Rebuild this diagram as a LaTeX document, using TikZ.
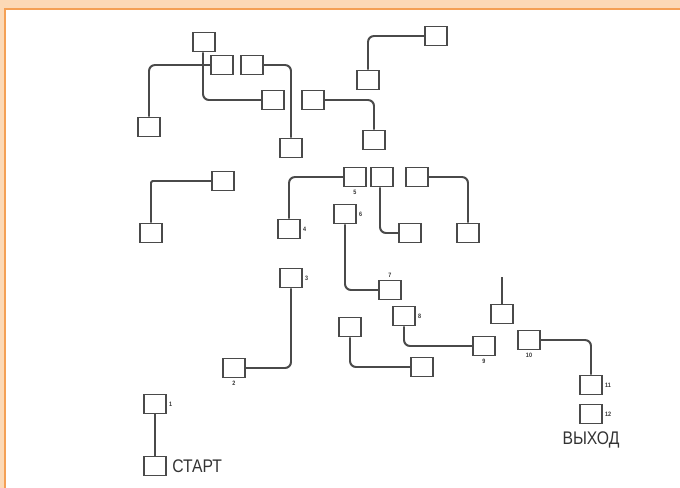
\documentclass[tikz,border=0pt]{standalone}
\usepackage{fontspec}
\usepackage{tikz}
\usetikzlibrary{positioning, calc}
\newfontfamily\capfont[FakeStretch=0.86]{Liberation Sans}
\definecolor{frame}{HTML}{FCD9B6}
\definecolor{frameline}{HTML}{F4A055}
\definecolor{wirecol}{HTML}{4A4A4A}
\definecolor{textcol}{HTML}{333333}
\tikzset{
  room/.style={
    draw=wirecol, line width=1.1pt, fill=white,
    minimum width=0.55cm, minimum height=0.475cm,
    inner sep=0pt
  },
  wire/.style={
    draw=wirecol, line width=1.4pt,
    rounded corners=0.15cm
  },
  numlbl/.style={
    font=\capfont\bfseries\fontsize{4.5}{5}\selectfont,
    text=textcol, inner sep=1.5pt
  },
  caption/.style={
    font=\capfont\fontsize{13}{14}\selectfont,
    text=textcol, inner sep=0pt
  }
}
\begin{document}
\begin{tikzpicture}[x=0.025cm, y=-0.025cm]
  % frame
  \useasboundingbox (0,0) rectangle (680,488);
  \fill[white] (0,0) rectangle (680,488);
  \fill[frame] (0,0) rectangle (680,9);
  \fill[frame] (0,0) rectangle (5,488);
  \draw[frameline, line width=1pt] (680,9) -- (5,9) -- (5,488);

  % upper left group
  \node[room] (a) at (204,42) {};
  \node[room] (b) at (222,65) {};
  \node[room] (c) at (252,65) {};
  \node[room] (d) at (273,100) {};
  \node[room] (e) at (149,127) {};
  \node[room] (f) at (291,148) {};
  \draw[wire] (e.north) |- (b.west);
  \draw[wire] ($(a.south)+(-1,0)$) |- (d.west);
  \draw[wire] (c.east) -| (f.north);

  % upper right group
  \node[room] (g) at (436,36) {};
  \node[room] (h) at (368,80) {};
  \node[room] (i) at (313,100) {};
  \node[room] (j) at (374,140) {};
  \draw[wire] (h.north) |- (g.west);
  \draw[wire] (i.east) -| (j.north);

  % middle left
  \node[room] (k) at (223,181) {};
  \node[room] (l) at (151,233) {};
  \draw[wire, rounded corners=0.05cm] (l.north) |- (k.west);

  % middle group
  \node[room, label={[numlbl]right:4}] (r4) at (289,229) {};
  \node[room, label={[numlbl]below:5}] (r5) at (355,177) {};
  \node[room] (m) at (382,177) {};
  \node[room] (n) at (417,177) {};
  \node[room, label={[numlbl]right:6}] (r6) at (345,214) {};
  \node[room] (o) at (410,233) {};
  \node[room] (p) at (468,233) {};
  \draw[wire] (r4.north) |- (r5.west);
  \draw[wire] ($(m.south)+(-2,0)$) |- (o.west);
  \draw[wire] (n.east) -| (p.north);

  % lower middle
  \node[room, label={[numlbl]right:3}] (r3) at (291,278) {};
  \node[room, label={[numlbl]below:2}] (r2) at (234,368) {};
  \node[room, label={[numlbl]above:7}] (r7) at (390,290) {};
  \node[room, label={[numlbl]right:8}] (r8) at (404,316) {};
  \node[room] (q) at (350,327) {};
  \node[room] (r) at (422,367) {};
  \node[room, label={[numlbl]below:9}] (r9) at (484,346) {};
  \draw[wire] (r3.south) |- (r2.east);
  \draw[wire] (r6.south) |- (r7.west);
  \draw[wire] (r8.south) |- (r9.west);
  \draw[wire] (q.south) |- (r.west);

  % lower right
  \node[room] (s) at (502,314) {};
  \coordinate (stub) at (502,277);
  \draw[wire] (s.north) -- (stub);
  \node[room, label={[numlbl]below:10}] (r10) at (529,340) {};
  \node[room, label={[numlbl]right:11}] (r11) at (591,385) {};
  \node[room, label={[numlbl]right:12}] (r12) at (591,414) {};
  \draw[wire] (r10.east) -| (r11.north);
  \node[caption] (exit) at (591,440) {ВЫХОД};

  % start
  \node[room, label={[numlbl]right:1}] (r1) at (155,404) {};
  \node[room] (start) at (155,466) {};
  \draw[wire] (r1.south) -- (start.north);
  \node[caption, anchor=west] (starttxt) at (172,466) {СТАРТ};
\end{tikzpicture}
\end{document}
